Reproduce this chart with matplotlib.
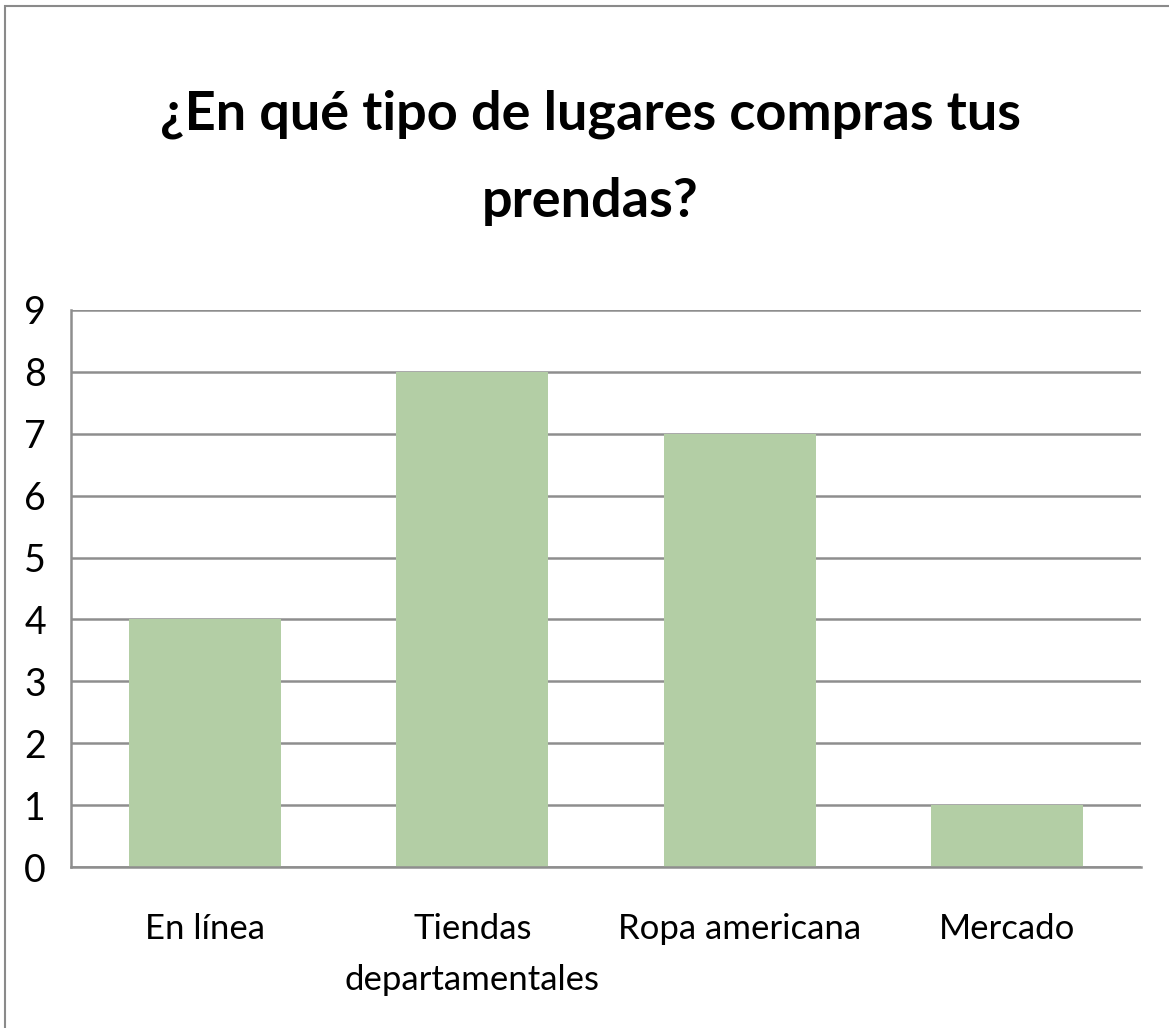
import matplotlib.pyplot as plt
from matplotlib.patches import Rectangle

# Chart data
categories = ["En línea", "Tiendas\ndepartamentales", "Ropa americana", "Mercado"]
counts = [4, 8, 7, 1]
y_ticks = list(range(0, 10))

title = "¿En qué tipo de lugares compras tus\nprendas?"
bar_color = "#B3CEA5"
grid_color = "#8E8E8E"

plt.rcParams['font.family'] = ['Lato', 'DejaVu Sans']

W, H = 1169, 1028
fig = plt.figure(figsize=(W / 100, H / 100), dpi=100)

# outer chart border
fig.patches.append(Rectangle((5 / W, -0.1), 1.2, 1 - 6 / H + 0.1, transform=fig.transFigure,
                             fill=False, edgecolor="#8A8A8A", linewidth=1.5))

ax = fig.add_axes([71 / W, 1 - 867 / H, (1141 - 71) / W, (867 - 310) / H])

x = range(len(categories))
ax.bar(x, counts, width=0.57, color=bar_color, zorder=2)

ax.set_xlim(-0.5, len(categories) - 0.5)
ax.set_ylim(0, 9)
ax.set_yticks(y_ticks)
ax.set_xticks(list(x))
ax.set_xticklabels(categories, fontsize=25, linespacing=1.75)
ax.tick_params(axis='y', labelsize=27, length=0, pad=18)
ax.tick_params(axis='x', length=0, pad=33)

ax.yaxis.grid(True, color=grid_color, linewidth=1.8, zorder=1)
ax.set_axisbelow(True)
for side in ['top', 'right']:
    ax.spines[side].set_visible(False)
for side in ['left', 'bottom']:
    ax.spines[side].set_color(grid_color)
    ax.spines[side].set_linewidth(1.8)

fig.text(590 / W, 1 - 158 / H, title, ha='center', va='center', fontsize=39,
         fontweight='bold', linespacing=1.95)

fig.savefig("out.png", dpi=100)
